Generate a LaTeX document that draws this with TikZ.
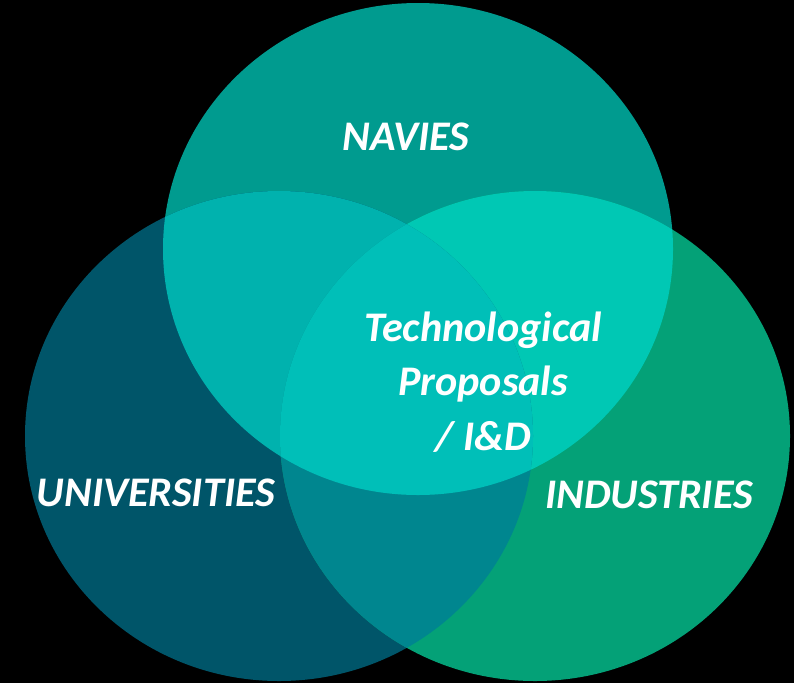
\documentclass[tikz,border=0pt]{standalone}
\usepackage{fontspec}
\setmainfont{Carlito}
\usepackage{tikz}
\usetikzlibrary{positioning}

\definecolor{navy}{HTML}{009B8F}
\definecolor{univ}{HTML}{005569}
\definecolor{indu}{HTML}{04A177}
\definecolor{navuni}{HTML}{00B2AE}
\definecolor{navind}{HTML}{00C8B4}
\definecolor{uniind}{HTML}{00868F}
\definecolor{allthree}{HTML}{00BFB8}

\def\Navies{(418,249) ellipse [x radius=255, y radius=246]}
\def\Univs{(279,436) ellipse [x radius=254, y radius=245]}
\def\Indus{(535,436) ellipse [x radius=255, y radius=245]}

\begin{document}
\begin{tikzpicture}[x=0.02cm, y=-0.02cm,
  label/.style={text=white, font=\fontsize{24}{31}\selectfont\bfseries\itshape, align=center}]
  \fill[black] (0,0) rectangle (794,683);
  \useasboundingbox (0,0) rectangle (794,683);
  % single sets
  \fill[navy] \Navies;
  \fill[univ] \Univs;
  \fill[indu] \Indus;
  % pairwise overlaps
  \begin{scope} \clip \Navies; \fill[navuni] \Univs; \end{scope}
  \begin{scope} \clip \Navies; \fill[navind] \Indus; \end{scope}
  \begin{scope} \clip \Univs; \fill[uniind] \Indus; \end{scope}
  % centre
  \begin{scope} \clip \Navies; \clip \Univs; \fill[allthree] \Indus; \end{scope}

  \node[label] (navies) at (406,137) {NAVIES};
  \node[label] (universities) at (156,493) {UNIVERSITIES};
  \node[label] (industries) at (649,495) {INDUSTRIES};
  \node[label] (proposals) at (483,382) {Technological\\Proposals\\/ I\&D};
\end{tikzpicture}
\end{document}
